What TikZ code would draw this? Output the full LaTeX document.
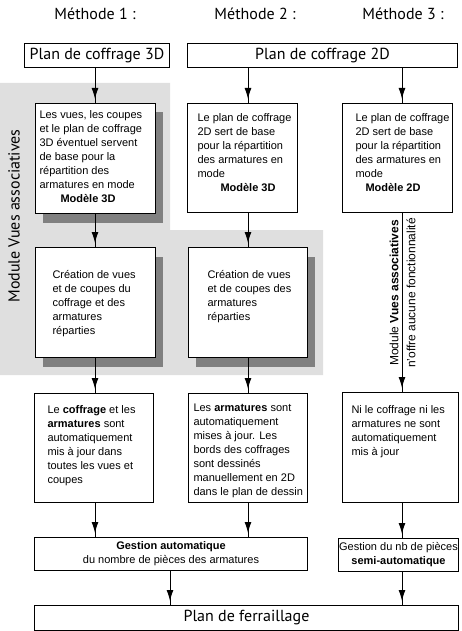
\documentclass[tikz,border=0pt]{standalone}
\usepackage{fontspec}
\setmainfont{Liberation Sans}
\newfontfamily\titrefont{PT Sans}
\usetikzlibrary{arrows.meta, positioning, shadows, decorations.markings}

\begin{document}
\begin{tikzpicture}[x=1pt, y=-1pt, line width=1pt]
	\tikzset{
		bloc/.style={draw, fill=white, anchor=north west, inner sep=0pt},
		ombre/.style={drop shadow={shadow xshift=7pt, shadow yshift=-9pt, fill=gray, opacity=1}},
		txt/.style={align=left, inner sep=0pt, font=\fontsize{11}{14}\selectfont},
		titre/.style={inner sep=0pt, font=\titrefont\fontsize{16}{18}\selectfont},
		fleche/.style={postaction={decorate}, decoration={markings, mark=at position -4pt with {\arrow{Latex[length=11pt, width=7pt]}}}}
	}
	\useasboundingbox (0,0) rectangle (461,631);

	% zone grise du module
	\fill[gray!25] (0,83) -- (170,83) -- (170,230) -- (323,230) -- (323,375) -- (0,375) -- cycle;
	\node[titre, rotate=90] (module) at (14,216) {Module Vues associatives};

	% titres des colonnes
	\node[titre] (m1) at (95,14) {Méthode 1 :};
	\node[titre] (m2) at (255,14) {Méthode 2 :};
	\node[titre] (m3) at (403,14) {Méthode 3 :};

	\coordinate (k1) at (95,0);
	\coordinate (k2) at (248,0);
	\coordinate (k3) at (402,0);
	\coordinate (k4) at (170,0);

	\node[bloc, titre, minimum width=145pt, minimum height=24pt] (p3d) at (24,43) {Plan de coffrage 3D};
	\node[bloc, titre, minimum width=270pt, minimum height=24pt] (p2d) at (187,43) {Plan de coffrage 2D};

	% premiere rangee
	\node[bloc, ombre, minimum width=120pt, minimum height=110pt] (v1a) at (35,103) {};
	\node[txt, below right=7pt and 4pt of v1a.north west] (t1a) {Les vues, les coupes\\ et le plan de coffrage\\ 3D éventuel servent\\ de base pour la\\ répartition des\\ armatures en mode\\ \hspace*{21pt}\textbf{Modèle 3D}};
	\node[bloc, minimum width=110pt, minimum height=109pt] (v2a) at (187,103) {};
	\node[txt, below right=10pt and 10pt of v2a.north west] (t2a) {Le plan de coffrage\\ 2D sert de base\\ pour la répartition\\ des armatures en\\ mode\\ \hspace*{23pt}\textbf{Modèle 3D}};
	\node[bloc, minimum width=110pt, minimum height=109pt] (v3a) at (342,103) {};
	\node[txt, below right=10pt and 13pt of v3a.north west] (t3a) {Le plan de coffrage\\ 2D sert de base\\ pour la répartition\\ des armatures en\\ mode\\ \hspace*{10pt}\textbf{Modèle 2D}};

	% deuxieme rangee
	\node[bloc, ombre, minimum width=120pt, minimum height=110pt] (v1b) at (35,247) {};
	\node[txt, below right=23pt and 17pt of v1b.north west] (t1b) {Création de vues\\ et de coupes du\\ coffrage et des\\ armatures\\ réparties};
	\node[bloc, ombre, minimum width=119pt, minimum height=110pt] (v2b) at (188,247) {};
	\node[txt, below right=23pt and 19pt of v2b.north west] (t2b) {Création de vues\\ et de coupes des\\ armatures\\ réparties};

	\node[txt, font=\fontsize{12}{14}\selectfont, rotate=90, anchor=south] (mva) at (399,293) {Module \textbf{Vues associatives}};
	\node[txt, font=\fontsize{12}{14}\selectfont, rotate=90, anchor=north] (nof) at (406,293) {n'offre aucune fonctionnalité};

	% troisieme rangee
	\node[bloc, minimum width=119pt, minimum height=109pt] (v1c) at (34,393) {};
	\node[txt, below right=12pt and 13pt of v1c.north west] (t1c) {Le \textbf{coffrage} et les\\ \textbf{armatures} sont\\ automatiquement\\ mis à jour dans\\ toutes les vues et\\ coupes};
	\node[bloc, minimum width=119pt, minimum height=109pt] (v2c) at (188,393) {};
	\node[txt, below right=10pt and 5pt of v2c.north west] (t2c) {Les \textbf{armatures} sont\\ automatiquement\\ mises à jour. Les\\ bords des coffrages\\ sont dessinés\\ manuellement en 2D\\ dans le plan de dessin};
	\node[bloc, minimum width=116pt, minimum height=110pt] (v3c) at (342,392) {};
	\node[txt, below right=13pt and 9pt of v3c.north west] (t3c) {Ni le coffrage ni les\\ armatures ne sont\\ automatiquement\\ mis à jour};

	% gestion des pieces
	\node[bloc, txt, align=center, minimum width=273pt, minimum height=33pt] (g1) at (34,537) {\textbf{Gestion automatique}\\ du nombre de pièces des armatures};
	\node[bloc, txt, align=center, minimum width=120pt, minimum height=33pt] (g3) at (338,538) {Gestion du nb de pièces\\ \textbf{semi-automatique}};

	\node[bloc, titre, minimum width=424pt, minimum height=25pt] (pf) at (34,605) {Plan de ferraillage};

	% fleches
	\draw[fleche] (p3d.south -| k1) -- (v1a.north -| k1);
	\draw[fleche] (v1a.south -| k1) -- (v1b.north -| k1);
	\draw[fleche] (v1b.south -| k1) -- (v1c.north -| k1);
	\draw[fleche] (v1c.south -| k1) -- (g1.north -| k1);
	\draw[fleche] (p2d.south -| k2) -- (v2a.north -| k2);
	\draw[fleche] (v2a.south -| k2) -- (v2b.north -| k2);
	\draw[fleche] (v2b.south -| k2) -- (v2c.north -| k2);
	\draw[fleche] (v2c.south -| k2) -- (g1.north -| k2);
	\draw[fleche] (p2d.south -| k3) -- (v3a.north -| k3);
	\draw[fleche] (v3a.south -| k3) -- (v3c.north -| k3);
	\draw[fleche] (v3c.south -| k3) -- (g3.north -| k3);
	\draw[fleche] (g1.south -| k4) -- (pf.north -| k4);
	\draw[fleche] (g3.south -| k3) -- (pf.north -| k3);
\end{tikzpicture}
\end{document}
